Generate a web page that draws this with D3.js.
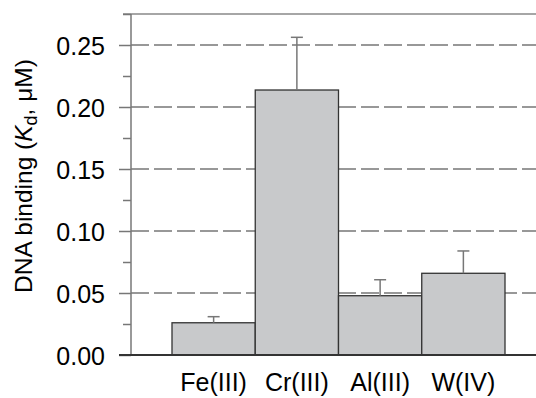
<!DOCTYPE html>
<html>
<head>
<meta charset="utf-8">
<script src="https://cdn.jsdelivr.net/npm/d3@7"></script>
<style>
  body { margin: 0; background: #fff; }
  svg { display: block; font-family: "Liberation Sans", Arial, sans-serif; }
</style>
</head>
<body>
<svg id="chart" width="536" height="398"></svg>
<script>
// data
const metals = ['Fe(III)', 'Cr(III)', 'Al(III)', 'W(IV)'];
const kd = [0.026, 0.2137, 0.0478, 0.0659];
const kdErr = [0.0049, 0.0425, 0.0129, 0.018];
const majorTicks = [0, 0.05, 0.10, 0.15, 0.20, 0.25];
const minorTicks = [0.025, 0.075, 0.125, 0.175, 0.225, 0.275];

const plotLeft = 131, plotRight = 536, plotTop = 14, plotBottom = 355;

const svg = d3.select('#chart');

const y = d3.scaleLinear().domain([0, 0.275]).range([plotBottom, plotTop]);
const x = d3.scaleBand().domain(metals).range([172, 505]).padding(0);

// dashed grid lines
svg.append('g')
  .selectAll('line')
  .data(majorTicks.filter(d => d > 0))
  .join('line')
    .attr('x1', plotLeft).attr('x2', plotRight)
    .attr('y1', d => y(d)).attr('y2', d => y(d))
    .attr('stroke', '#777')
    .attr('stroke-width', 1.5)
    .attr('stroke-dasharray', '18,5');

// top frame line
svg.append('line')
  .attr('x1', plotLeft - 8).attr('x2', plotRight)
  .attr('y1', y(0.275)).attr('y2', y(0.275))
  .attr('stroke', '#888').attr('stroke-width', 1.5);

// y axis, major + minor ticks
const yMajor = d3.axisLeft(y).tickValues(majorTicks).tickSize(12).tickFormat('');
const yMinor = d3.axisLeft(y).tickValues(minorTicks).tickSize(8).tickFormat('');
[yMajor, yMinor].forEach(ax => {
  const g = svg.append('g').attr('transform', `translate(${plotLeft},0)`).call(ax);
  g.select('.domain').remove();
  g.selectAll('.tick line').attr('stroke', '#777').attr('stroke-width', 1.5);
});
svg.append('line')
  .attr('x1', plotLeft).attr('x2', plotLeft)
  .attr('y1', plotTop).attr('y2', plotBottom)
  .attr('stroke', '#777').attr('stroke-width', 1.5);

// tick labels
svg.append('g')
  .selectAll('text')
  .data(majorTicks)
  .join('text')
    .attr('x', 105)
    .attr('y', d => y(d) + 9.5)
    .attr('text-anchor', 'end')
    .attr('font-size', 25)
    .attr('fill', '#000')
    .text(d => d3.format('.2f')(d));

// bars
svg.append('g')
  .selectAll('rect')
  .data(kd)
  .join('rect')
    .attr('x', (d, i) => x(metals[i]))
    .attr('y', d => y(d))
    .attr('width', x.bandwidth())
    .attr('height', d => y(0) - y(d))
    .attr('fill', '#c8c9cb')
    .attr('stroke', '#333')
    .attr('stroke-width', 1.3);

// error bars (upper only)
const err = svg.append('g').attr('stroke', '#777').attr('stroke-width', 1.5);
kd.forEach((v, i) => {
  const cx = x(metals[i]) + x.bandwidth() / 2;
  err.append('line')
    .attr('x1', cx).attr('x2', cx)
    .attr('y1', y(v)).attr('y2', y(v + kdErr[i]));
  err.append('line')
    .attr('x1', cx - 6).attr('x2', cx + 6)
    .attr('y1', y(v + kdErr[i])).attr('y2', y(v + kdErr[i]));
});

// bottom axis line
svg.append('line')
  .attr('x1', plotLeft - 12).attr('x2', plotRight)
  .attr('y1', y(0)).attr('y2', y(0))
  .attr('stroke', '#333').attr('stroke-width', 2);

// category labels
svg.append('g')
  .selectAll('text')
  .data(metals)
  .join('text')
    .attr('x', d => x(d) + x.bandwidth() / 2)
    .attr('y', 391)
    .attr('text-anchor', 'middle')
    .attr('font-size', 25)
    .attr('fill', '#000')
    .text(d => d);

// y axis title
const title = svg.append('text')
  .attr('transform', 'translate(32,176) rotate(-90)')
  .attr('text-anchor', 'middle')
  .attr('font-size', 24.5)
  .attr('fill', '#000');
title.append('tspan').text('DNA binding (');
title.append('tspan').attr('font-style', 'italic').text('K');
title.append('tspan').attr('font-size', 18).attr('dy', 5).text('d');
title.append('tspan').attr('dy', -5).text(', μM)');
</script>
</body>
</html>
